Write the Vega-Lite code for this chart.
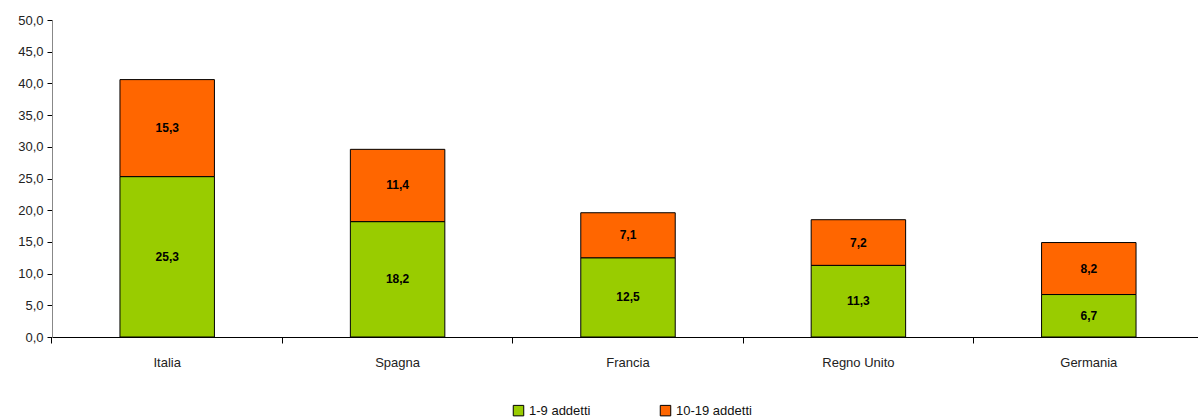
{
  "$schema": "https://vega.github.io/schema/vega-lite/v6.json",
  "width": 1152,
  "height": 317,
  "autosize": "none",
  "padding": {"left": 52, "top": 20, "right": 0, "bottom": 82},
  "config": {
    "locale": {"number": {"decimal": ",", "thousands": ".", "grouping": [3], "currency": ["€", ""]}},
    "view": {"stroke": null},
    "font": "Liberation Sans",
    "axis": {"grid": false, "labelFont": "Liberation Sans", "labelFontSize": 13, "labelColor": "#222222", "labelOverlap": false}
  },
  "data": {
    "values": [
      {"paese": "Italia", "classe": "1-9 addetti", "valore": 25.3},
      {"paese": "Italia", "classe": "10-19 addetti", "valore": 15.3},
      {"paese": "Spagna", "classe": "1-9 addetti", "valore": 18.2},
      {"paese": "Spagna", "classe": "10-19 addetti", "valore": 11.4},
      {"paese": "Francia", "classe": "1-9 addetti", "valore": 12.5},
      {"paese": "Francia", "classe": "10-19 addetti", "valore": 7.1},
      {"paese": "Regno Unito", "classe": "1-9 addetti", "valore": 11.3},
      {"paese": "Regno Unito", "classe": "10-19 addetti", "valore": 7.2},
      {"paese": "Germania", "classe": "1-9 addetti", "valore": 6.7},
      {"paese": "Germania", "classe": "10-19 addetti", "valore": 8.2}
    ]
  },
  "encoding": {
    "x": {
      "field": "paese", "type": "nominal", "sort": null,
      "scale": {"paddingInner": 0.59, "paddingOuter": 0.295},
      "axis": {
        "title": null, "labelAngle": 0, "bandPosition": -0.72,
        "domainColor": "#000000", "tickColor": "#000000", "tickSize": 6,
        "labelPadding": 13
      }
    },
    "y": {
      "field": "valore", "type": "quantitative", "stack": "zero",
      "scale": {"domain": [0, 50], "nice": false},
      "axis": {
        "title": null, "values": [0, 5, 10, 15, 20, 25, 30, 35, 40, 45, 50],
        "format": ".1f", "domainColor": "#888888", "tickColor": "#000000",
        "tickSize": 5, "labelPadding": 4
      }
    },
    "order": {"field": "classe", "sort": "ascending"}
  },
  "layer": [
    {
      "mark": {"type": "bar", "stroke": "#000000", "strokeWidth": 1},
      "encoding": {
        "color": {
          "field": "classe", "type": "nominal",
          "scale": {"domain": ["1-9 addetti", "10-19 addetti"], "range": ["#99CC00", "#FF6600"]},
          "legend": {
            "title": null, "orient": "none", "direction": "horizontal",
            "legendX": 460, "legendY": 384, "symbolType": "square", "symbolSize": 110,
            "symbolStrokeColor": "#000000", "symbolStrokeWidth": 1, "symbolOpacity": 1,
            "labelFontSize": 13, "labelFont": "Liberation Sans", "labelColor": "#111111",
            "columnPadding": 67, "labelOffset": 4
          }
        }
      }
    },
    {
      "mark": {"type": "text", "fontWeight": "bold", "fontSize": 12, "color": "#000000", "baseline": "middle"},
      "encoding": {
        "y": {
          "field": "valore", "type": "quantitative", "stack": "zero", "bandPosition": 0.5,
          "axis": {
            "title": null, "values": [0, 5, 10, 15, 20, 25, 30, 35, 40, 45, 50],
            "format": ".1f", "domainColor": "#888888", "tickColor": "#000000",
            "tickSize": 5, "labelPadding": 4
          }
        },
        "detail": {"field": "classe"},
        "text": {"field": "valore", "type": "quantitative", "format": ".1f"}
      }
    }
  ]
}
